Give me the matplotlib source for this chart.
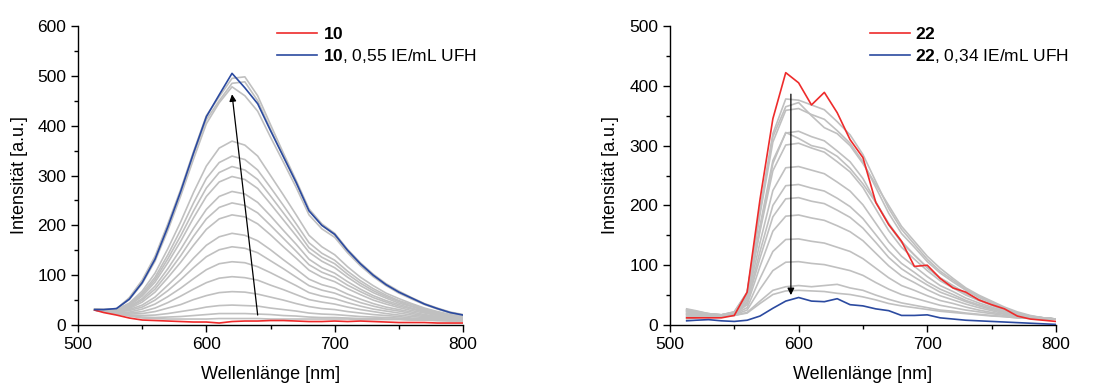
import matplotlib
matplotlib.use('Agg')
import matplotlib.pyplot as plt
from matplotlib.ticker import MultipleLocator

plt.rcParams['font.family'] = ['Liberation Sans', 'DejaVu Sans']
plt.rcParams['mathtext.fontset'] = 'custom'
plt.rcParams['mathtext.bf'] = 'Liberation Sans:bold'
plt.rcParams['mathtext.rm'] = 'Liberation Sans'
plt.rcParams['font.size'] = 12

# wavelength grid [nm]
wl = [513, 520, 530, 540, 550, 560, 570, 580, 590, 600, 610, 620, 630, 640, 650,
      660, 670, 680, 690, 700, 710, 720, 730, 740, 750, 760, 770, 780, 790, 800]

# ---- left: 10 ----
red_10 = [30, 25, 20, 14, 10, 9, 8, 7, 6, 6, 4, 7, 8, 8, 9,
          9, 8, 7, 7, 8, 7, 8, 7, 6, 5, 5, 5, 4, 4, 4]
blue_10 = [31, 31, 33, 52, 85, 132, 197, 268, 345, 418, 462, 505, 476, 444, 390,
           338, 286, 229, 200, 182, 150, 123, 100, 81, 66, 54, 42, 33, 25, 20]
grey_10 = [
    [32, 31, 32, 55, 90, 138, 203, 272, 348, 420, 458, 495, 498, 460, 402, 345, 290, 233, 203, 184, 152, 125, 102, 83, 68, 55, 43, 34, 26, 21],
    [32, 31, 32, 54, 88, 135, 200, 268, 342, 412, 450, 485, 488, 450, 393, 338, 285, 230, 200, 181, 150, 123, 100, 81, 66, 54, 42, 33, 25, 20],
    [31, 31, 33, 51, 83, 128, 190, 259, 333, 404, 446, 478, 460, 429, 377, 327, 276, 221, 193, 176, 145, 119, 97, 79, 64, 52, 41, 32, 24, 20],
    [31, 30, 31, 44, 68, 104, 153, 207, 266, 319, 355, 369, 361, 339, 300, 261, 221, 180, 157, 141, 117, 96, 79, 64, 53, 43, 34, 27, 21, 17],
    [31, 30, 30, 42, 64, 96, 141, 191, 245, 294, 326, 339, 332, 311, 276, 240, 203, 165, 144, 130, 108, 89, 73, 60, 49, 41, 32, 26, 20, 16],
    [31, 30, 30, 40, 61, 91, 133, 179, 229, 275, 306, 318, 311, 292, 259, 225, 191, 155, 136, 123, 102, 84, 69, 57, 47, 38, 31, 24, 19, 16],
    [31, 29, 29, 39, 58, 86, 125, 168, 215, 258, 287, 298, 292, 274, 243, 211, 179, 146, 128, 115, 96, 79, 65, 54, 44, 37, 29, 23, 18, 15],
    [31, 29, 28, 37, 53, 78, 113, 152, 194, 232, 258, 268, 263, 246, 219, 190, 162, 132, 115, 104, 87, 72, 59, 49, 41, 34, 27, 22, 17, 15],
    [30, 29, 28, 35, 50, 72, 104, 139, 178, 213, 236, 245, 240, 225, 200, 174, 148, 121, 106, 96, 80, 67, 55, 46, 38, 32, 26, 21, 17, 14],
    [30, 29, 27, 33, 46, 66, 95, 126, 160, 192, 213, 221, 217, 203, 181, 157, 134, 110, 96, 87, 73, 61, 50, 42, 35, 29, 24, 19, 16, 13],
    [30, 28, 27, 31, 40, 56, 80, 105, 134, 160, 177, 184, 180, 169, 151, 131, 112, 92, 81, 74, 62, 52, 43, 36, 31, 26, 21, 17, 14, 12],
    [30, 28, 26, 29, 36, 50, 69, 91, 115, 137, 151, 157, 154, 145, 129, 113, 96, 79, 70, 64, 54, 45, 38, 32, 28, 23, 19, 16, 13, 12],
    [30, 28, 25, 26, 32, 42, 57, 74, 93, 111, 123, 127, 125, 117, 105, 92, 79, 65, 58, 53, 45, 38, 32, 28, 24, 20, 17, 14, 12, 11],
    [30, 28, 25, 24, 27, 34, 45, 58, 72, 85, 94, 97, 95, 90, 80, 71, 61, 51, 46, 42, 36, 31, 27, 23, 20, 17, 15, 13, 11, 10],
    [30, 27, 24, 22, 23, 27, 34, 41, 51, 59, 65, 67, 66, 62, 56, 50, 43, 37, 33, 31, 27, 24, 21, 19, 17, 14, 13, 11, 10, 9],
    [30, 27, 24, 20, 19, 20, 23, 27, 31, 36, 39, 40, 39, 38, 34, 31, 28, 24, 22, 21, 19, 17, 16, 15, 14, 12, 11, 10, 9, 9],
    [30, 27, 23, 19, 16, 15, 16, 17, 19, 21, 23, 23, 23, 22, 21, 19, 18, 16, 15, 15, 14, 13, 13, 12, 12, 10, 10, 9, 8, 8],
    [30, 27, 23, 18, 14, 13, 12, 12, 12, 12, 13, 13, 13, 13, 12, 12, 12, 12, 12, 12, 12, 11, 11, 11, 11, 10, 10, 9, 9, 9],
]
arrow_10 = [(640, 20), (620, 463)]

# ---- right: 22 ----
red_22 = [12, 12, 12, 12, 16, 55, 210, 345, 422, 405, 368, 389, 355, 310, 280,
          205, 168, 140, 98, 100, 78, 62, 55, 42, 34, 27, 15, 10, 8, 6]
blue_22 = [7, 8, 9, 7, 6, 8, 15, 28, 40, 46, 40, 39, 44, 34, 32,
           27, 24, 16, 16, 17, 12, 10, 8, 7, 6, 5, 4, 3, 2, 1]
grey_22 = [
    [27, 24, 19, 17, 22, 55, 193, 320, 378, 376, 368, 360, 340, 318, 285, 240, 195, 160, 135, 110, 90, 75, 60, 48, 38, 28, 20, 15, 12, 10],
    [25, 22, 19, 17, 22, 54, 190, 315, 365, 372, 350, 330, 320, 300, 270, 235, 200, 165, 140, 115, 95, 78, 62, 50, 40, 30, 22, 16, 12, 10],
    [20, 19, 18, 17, 21, 53, 185, 306, 359, 362, 352, 344, 325, 304, 273, 230, 187, 153, 130, 106, 87, 72, 58, 46, 37, 27, 20, 15, 12, 10],
    [23, 21, 18, 17, 20, 49, 166, 275, 321, 324, 315, 308, 291, 273, 245, 206, 168, 138, 117, 96, 79, 66, 53, 43, 34, 26, 19, 14, 12, 10],
    [18, 17, 17, 16, 20, 48, 160, 270, 322, 312, 300, 295, 282, 262, 236, 205, 170, 140, 117, 96, 78, 65, 52, 42, 34, 25, 19, 14, 12, 10],
    [26, 23, 19, 17, 20, 47, 157, 258, 301, 304, 296, 289, 273, 256, 230, 194, 158, 130, 110, 91, 74, 62, 50, 41, 33, 25, 18, 14, 12, 10],
    [15, 15, 16, 16, 19, 43, 138, 225, 263, 265, 259, 253, 239, 224, 201, 170, 139, 115, 98, 81, 66, 56, 45, 37, 30, 23, 17, 14, 11, 10],
    [22, 20, 17, 16, 19, 39, 123, 200, 233, 235, 229, 224, 212, 198, 178, 151, 124, 103, 88, 72, 60, 51, 41, 34, 28, 22, 16, 13, 11, 10],
    [12, 13, 15, 16, 19, 37, 112, 181, 211, 213, 207, 203, 192, 180, 162, 138, 113, 94, 80, 67, 55, 47, 39, 32, 26, 21, 16, 13, 11, 10],
    [19, 18, 17, 16, 18, 34, 98, 157, 182, 184, 179, 175, 166, 156, 141, 120, 99, 82, 71, 59, 49, 42, 35, 29, 24, 19, 15, 13, 11, 10],
    [24, 21, 18, 16, 18, 29, 78, 123, 143, 144, 140, 137, 130, 123, 111, 95, 79, 66, 58, 49, 41, 36, 30, 25, 21, 18, 14, 12, 11, 10],
    [14, 15, 16, 16, 17, 25, 60, 91, 105, 106, 103, 101, 96, 91, 83, 71, 60, 51, 45, 39, 33, 29, 25, 22, 19, 16, 13, 12, 11, 10],
    [17, 17, 16, 15, 16, 21, 40, 58, 64, 66, 64, 66, 68, 62, 58, 50, 43, 37, 33, 29, 25, 23, 20, 18, 16, 14, 12, 12, 10, 10],
    [10, 12, 14, 15, 16, 20, 36, 51, 57, 58, 57, 56, 53, 51, 47, 42, 36, 32, 29, 26, 23, 21, 19, 17, 15, 14, 12, 11, 10, 10],
]
arrow_22 = [(594, 386), (594, 50)]

panels = [
    dict(red=red_10, blue=blue_10, grey=grey_10, arrow=arrow_10, ymax=600,
         lab_red=r'$\bf{10}$', lab_blue=r'$\bf{10}$, 0,55 IE/mL UFH',
         rect=[0.071, 0.1514, 0.3503, 0.7807]),
    dict(red=red_22, blue=blue_22, grey=grey_22, arrow=arrow_22, ymax=500,
         lab_red=r'$\bf{22}$', lab_blue=r'$\bf{22}$, 0,34 IE/mL UFH',
         rect=[0.6096, 0.1514, 0.3512, 0.7807]),
]

fig = plt.figure(figsize=(10.99, 3.83), dpi=100)

for p in panels:
    ax = fig.add_axes(p['rect'])
    lr, = ax.plot(wl, p['red'], color='#ee2b2b', lw=1.2, zorder=2)
    for g in p['grey']:
        ax.plot(wl, g, color='#c0c0c0', lw=1.2, zorder=1)
    lb, = ax.plot(wl, p['blue'], color='#2b4aa0', lw=1.2, zorder=3)
    (x0, y0), (x1, y1) = p['arrow']
    ax.annotate('', xy=(x1, y1), xytext=(x0, y0),
                arrowprops=dict(arrowstyle='-|>', color='black', lw=0.9,
                                mutation_scale=10, shrinkA=0, shrinkB=0), zorder=4)

    ax.set_xlim(500, 800)
    ax.set_ylim(0, p['ymax'])
    ax.xaxis.set_major_locator(MultipleLocator(100))
    ax.xaxis.set_minor_locator(MultipleLocator(50))
    ax.yaxis.set_major_locator(MultipleLocator(100))
    ax.yaxis.set_minor_locator(MultipleLocator(50))
    ax.tick_params(which='major', direction='out', length=5, width=1, labelsize=12.5)
    ax.tick_params(which='minor', direction='out', length=3, width=1)
    for s in ['top', 'right']:
        ax.spines[s].set_visible(False)
    for s in ['left', 'bottom']:
        ax.spines[s].set_linewidth(1)
    ax.set_xlabel('Wellenlänge [nm]', fontsize=13, labelpad=10)
    ax.set_ylabel('Intensität [a.u.]', fontsize=13, labelpad=7)

    ax.legend([lr, lb], [p['lab_red'], p['lab_blue']], loc='upper left',
              bbox_to_anchor=(0.50, 1.023), frameon=False, fontsize=12.5,
              handlelength=2.3, handletextpad=0.3, labelspacing=0.3,
              borderaxespad=0)

fig.savefig('out.png', dpi=100)
